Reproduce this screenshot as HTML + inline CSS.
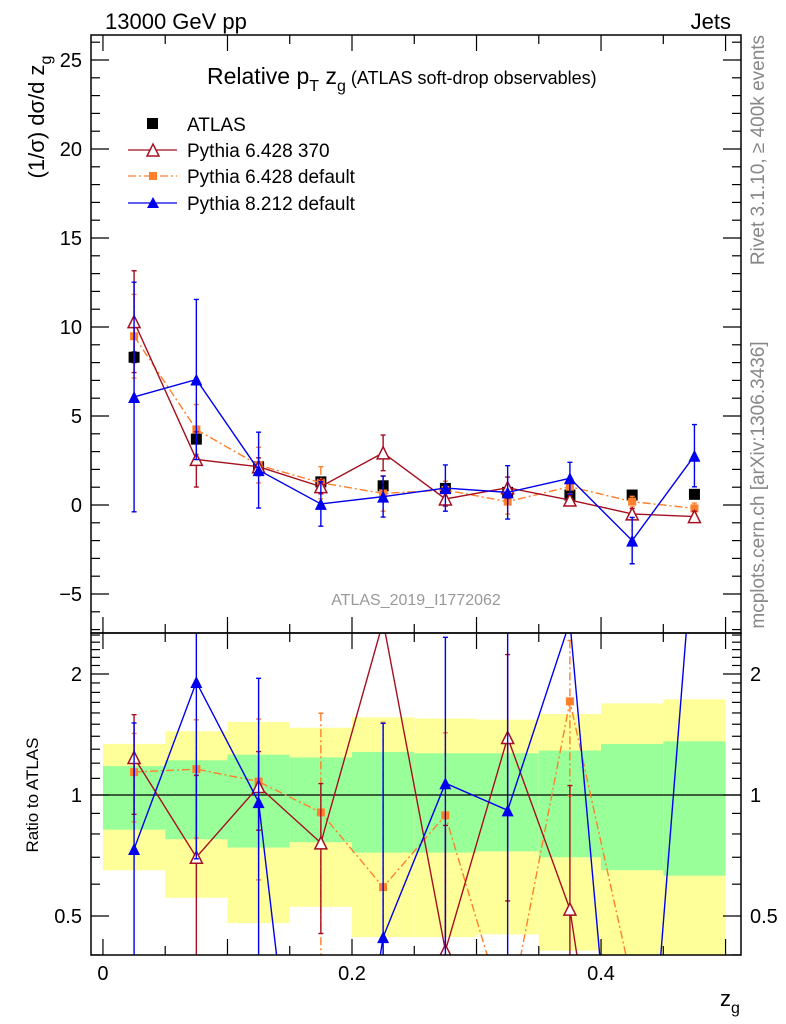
<!DOCTYPE html>
<html><head><meta charset="utf-8"><style>
html,body{margin:0;padding:0;background:#fff;overflow:hidden;width:786px;height:1024px;}
svg{display:block;font-family:"Liberation Sans",sans-serif;}
</style></head><body>
<svg id="c" width="786" height="1024" viewBox="0 0 786 1024" xmlns="http://www.w3.org/2000/svg">
<defs>
<clipPath id="cm"><rect x="91" y="35" width="650" height="598"/></clipPath>
<clipPath id="cr"><rect x="91" y="633" width="650" height="322"/></clipPath>
</defs>
<g id="bands" clip-path="url(#cr)"></g>
<g id="marks"></g>
<g id="axes"></g>
<rect x="91" y="35" width="650" height="598" fill="none" stroke="#000" stroke-width="1.5"/>
<rect x="91" y="633" width="650" height="322" fill="none" stroke="#000" stroke-width="1.5"/>
<text x="105" y="29" font-size="22">13000 GeV pp</text>
<text x="731" y="29" font-size="22" text-anchor="end">Jets</text>
<text x="207" y="84" font-size="23">Relative p<tspan font-size="16" dy="7">T</tspan><tspan dy="-7"> z</tspan><tspan font-size="16" dy="7">g</tspan><tspan dy="-7" font-size="18"> (ATLAS soft-drop observables)</tspan></text>
<text transform="translate(44,117) rotate(-90)" font-size="22" text-anchor="middle">(1/σ) dσ/d z<tspan font-size="16" dy="7">g</tspan></text>
<text transform="translate(38,795) rotate(-90)" font-size="17" text-anchor="middle">Ratio to ATLAS</text>
<text transform="translate(764,150) rotate(-90)" font-size="19" fill="#888" text-anchor="middle">Rivet 3.1.10, ≥ 400k events</text>
<text transform="translate(764,485) rotate(-90)" font-size="19" fill="#888" text-anchor="middle">mcplots.cern.ch [arXiv:1306.3436]</text>
<text x="416" y="605" font-size="16" fill="#999" text-anchor="middle">ATLAS_2019_I1772062</text>
<text x="730" y="1006" font-size="22" text-anchor="middle">z<tspan font-size="16" dy="7">g</tspan></text>
<g id="legend">
<rect x="147" y="118" width="11" height="11" fill="#000"/>
<text x="187" y="131" font-size="19">ATLAS</text>
<line x1="128" y1="150" x2="177" y2="150" stroke="#a50f20" stroke-width="1.3"/>
<path d="M147,156 L159,156 L153,144 Z" fill="#fff" stroke="#a50f20" stroke-width="1.5"/>
<text x="187" y="157" font-size="19">Pythia 6.428 370</text>
<line x1="128" y1="176" x2="177" y2="176" stroke="#ff7f2a" stroke-width="1.3" stroke-dasharray="8,3,2,3"/>
<rect x="149" y="172" width="8" height="8" fill="#ff7f2a"/>
<text x="187" y="183" font-size="19">Pythia 6.428 default</text>
<line x1="128" y1="203" x2="177" y2="203" stroke="#0000ee" stroke-width="1.3"/>
<path d="M147,208 L159,208 L153,197 Z" fill="#0000ee"/>
<text x="187" y="210" font-size="19">Pythia 8.212 default</text>
</g>
</svg>
<script>
const binCenters=[0.025,0.075,0.125,0.175,0.225,0.275,0.325,0.375,0.425,0.475];
const atlasVals=[8.3,3.7,2.15,1.3,1.08,0.93,0.71,0.56,0.56,0.6];
const atlasErr=[0.3,0.2,0.15,0.15,0.15,0.12,0.12,0.1,0.1,0.1];
const p6370Vals=[10.3,2.56,2.15,1.03,2.93,0.34,0.97,0.28,-0.5,-0.65];
const p6370Err=[2.86,1.55,0.5,0.4,1.0,0.4,0.6,0.3,0.3,0.3];
const p6defVals=[9.48,4.24,2.24,1.25,0.65,0.84,0.19,1.03,0.19,-0.19];
const p6defErr=[2.35,1.4,1.0,0.9,1.0,0.5,0.7,0.4,0.3,0.3];
const p8Vals=[6.07,7.05,1.96,0.06,0.47,0.95,0.71,1.5,-2.0,2.77];
const p8Err=[6.45,4.5,2.13,1.25,1.15,1.3,1.5,0.9,1.3,1.75];
const ratioP6370=[1.24,0.70,1.05,0.76,2.7,0.41,1.39,0.52,0.05,0.05];
const ratioP6def=[1.14,1.16,1.08,0.905,0.59,0.89,0.27,1.71,0.34,0.05];
const ratioP8=[0.734,1.91,0.96,0.046,0.443,1.07,0.916,2.7,0.05,4.6];
const yellowHi=[1.34,1.44,1.52,1.47,1.56,1.55,1.54,1.59,1.69,1.73];
const yellowLo=[0.65,0.555,0.48,0.527,0.443,0.443,0.45,0.41,0.39,0.38];
const greenHi=[1.18,1.22,1.26,1.24,1.28,1.27,1.27,1.29,1.34,1.36];
const greenLo=[0.82,0.776,0.74,0.763,0.719,0.719,0.724,0.70,0.65,0.63];
const binWidth=0.05;
const xTickLabels=["0","0.2","0.4"];
const yTickLabels=["−5","0","5","10","15","20","25"];
const rTickLabels=["0.5","1","2"];

const NS="http://www.w3.org/2000/svg";
const X0=-0.0096,X1=0.5124,PL=91,PR=741;
const sx=v=>PL+(v-X0)/(X1-X0)*(PR-PL);
const sy=v=>505-v*17.8;
const sr=v=>795-Math.log2(Math.max(v,1e-3))*121;
function mk(tag,attrs,parent){const e=document.createElementNS(NS,tag);for(const k in attrs)e.setAttribute(k,attrs[k]);parent.appendChild(e);return e;}
const bands=document.getElementById('bands'),marks=document.getElementById('marks'),axes=document.getElementById('axes');

binCenters.forEach((c,i)=>{
  const x1=sx(c-binWidth/2),x2=sx(c+binWidth/2);
  const y=mk('rect',{x:x1,y:sr(yellowHi[i]),width:x2-x1,height:sr(yellowLo[i])-sr(yellowHi[i]),fill:'#ffff99'},bands);
  
  
  const g=mk('rect',{x:x1,y:sr(greenHi[i]),width:x2-x1,height:sr(greenLo[i])-sr(greenHi[i]),fill:'#99ff99'},bands);
  
  
});
const one=mk('line',{x1:PL,x2:PR,y1:sr(1),y2:sr(1),stroke:'#000','stroke-width':1.3},marks);



function marker(type,x,y,col,g){
  let e;
  if(type==='sq') e=mk('rect',{x:x-5.5,y:y-5.5,width:11,height:11,fill:col},g);
  else if(type==='sqs') e=mk('rect',{x:x-4,y:y-4,width:8,height:8,fill:col},g);
  else if(type==='tri') e=mk('path',{d:`M${x-6},${y+6}L${x+6},${y+6}L${x},${y-6}Z`,fill:col},g);
  else e=mk('path',{d:`M${x-6},${y+6}L${x+6},${y+6}L${x},${y-6}Z`,fill:'#fff',stroke:col,'stroke-width':1.5},g);
  
  
}
function series(name,vals,errs,col,dash,mtype,line){
  const g=mk('g',{'clip-path':'url(#cm)'},marks);
  
  
  if(line){const p=mk('polyline',{points:binCenters.map((c,i)=>sx(c)+','+sy(vals[i])).join(' '),fill:'none',stroke:col,'stroke-width':1.4,'stroke-dasharray':dash||'none'},g);
    
    }
  binCenters.forEach((c,i)=>{
    const x=sx(c);
    const e=mk('path',{d:`M${x},${sy(vals[i]+errs[i])}V${sy(vals[i]-errs[i])}M${x-2.5},${sy(vals[i]+errs[i])}h5M${x-2.5},${sy(vals[i]-errs[i])}h5`,stroke:col,'stroke-width':1.4,'stroke-dasharray':dash||'none',fill:'none'},g);
    
    
    marker(mtype,x,sy(vals[i]),col,g);
  });
}
function rseries(name,rv,vals,errs,col,dash,mtype){
  const g=mk('g',{'clip-path':'url(#cr)'},marks);
  
  
  const p=mk('polyline',{points:binCenters.map((c,i)=>sx(c)+','+sr(rv[i])).join(' '),fill:'none',stroke:col,'stroke-width':1.4,'stroke-dasharray':dash||'none'},g);
  
  
  binCenters.forEach((c,i)=>{
    if(rv[i]<0.4||rv[i]>2.5) return;
    const x=sx(c),d=errs[i]/atlasVals[i];
    const hi=rv[i]+d,lo=rv[i]-d;
    const e=mk('path',{d:`M${x},${sr(hi)}V${sr(lo)}M${x-2.5},${sr(hi)}h5M${x-2.5},${sr(lo)}h5`,stroke:col,'stroke-width':1.4,'stroke-dasharray':dash||'none',fill:'none'},g);
    
    
    marker(mtype,x,sr(rv[i]),col,g);
  });
}
series('atlas',atlasVals,atlasErr,'#000',null,'sq',false);
series('pythia6-default',p6defVals,p6defErr,'#ff7f2a','8,3,2,3','sqs',true);
series('pythia6-370',p6370Vals,p6370Err,'#a50f20',null,'otri',true);
series('pythia8',p8Vals,p8Err,'#0000ee',null,'tri',true);
rseries('pythia6-default',ratioP6def,p6defVals,p6defErr,'#ff7f2a','8,3,2,3','sqs');
rseries('pythia6-370',ratioP6370,p6370Vals,p6370Err,'#a50f20',null,'otri');
rseries('pythia8',ratioP8,p8Vals,p8Err,'#0000ee',null,'tri');

function tk(x1,y1,x2,y2){const l=mk('line',{x1,y1,x2,y2,stroke:'#000','stroke-width':1.2},axes);}
function lab(x,y,t,anc,name){const e=mk('text',{x,y,'font-size':20,'text-anchor':anc},axes);e.textContent=t;}
for(let v=-7;v<=26;v++){const y=sy(v);const L=(v%5===0)?18:9;tk(PL,y,PL+L,y);tk(PR,y,PR-L,y);}
yTickLabels.forEach((t,i)=>lab(82,sy(-5+5*i)+7,t,'end','y-tick-label'));
const rt=[0.4,0.5,0.6,0.7,0.8,0.9,1,1.1,1.2,1.3,1.4,1.5,1.6,1.7,1.8,1.9,2,2.1,2.2,2.3,2.4,2.5];
rt.forEach(v=>{const y=sr(v);const L=(v===0.5||v===1||v===2)?18:9;tk(PL,y,PL+L,y);tk(PR,y,PR-L,y);});
rTickLabels.forEach(t=>{const v=parseFloat(t);lab(82,sr(v)+7,t,'end','ratio-tick-label');lab(750,sr(v)+7,t,'start','ratio-tick-label-right');});
for(let k=0;k<=10;k++){const v=k*0.05,x=sx(v);const L=(k%2===0)?16:9;tk(x,955,x,955-L);tk(x,633,x,633+L);tk(x,633,x,633-L);tk(x,35,x,35+L);}
xTickLabels.forEach(t=>{const v=parseFloat(t);lab(sx(v),980,t,'middle','x-tick-label');});
</script>
</body></html>
